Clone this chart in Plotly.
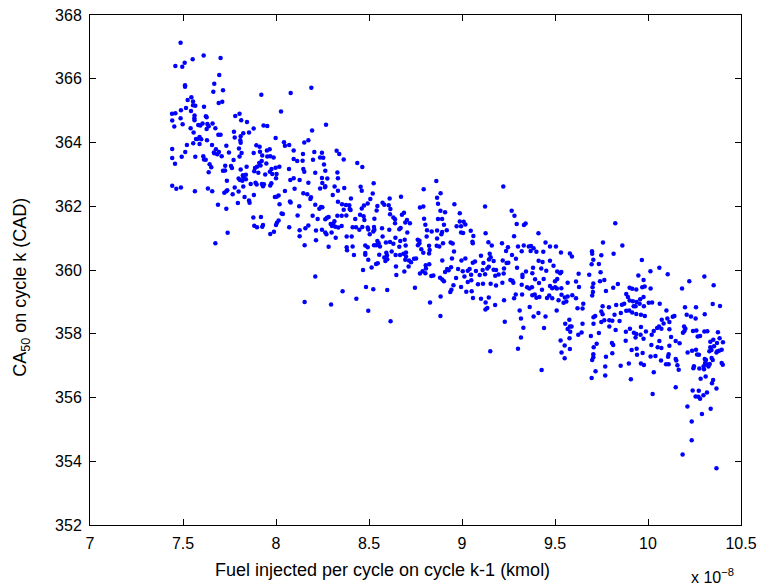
import plotly.graph_objects as go

# Fuel injected on cycle k-1 (units of 1e-8 kmol) and CA50 on cycle k (CAD)
fuel_a = [7.487,7.611,7.702,7.552,7.459,7.496,7.509,7.695,7.668,7.511,
7.511,7.715,7.663,7.921,8.079,7.545,7.525,7.554,7.692,7.711,
7.613,7.554,7.566,7.516,7.489,7.543,7.441,7.459,8.027,7.562,
7.623,7.627,7.781,7.804,7.561,7.562,7.487,7.442,7.813,7.844,
7.605,7.631,7.659,7.674,7.582,7.593,7.627,7.638,7.498,7.453,
7.541,7.880,7.933,7.953,7.774,7.824,7.855,7.557,7.690,7.702,
7.810,7.778,7.589,7.577,7.570,7.598,7.808,7.810,7.998,7.629,
7.555,7.589,7.521,7.656,7.894,7.912,8.043,8.048,8.071,7.442,
7.677,7.733,7.801,7.693,7.666,7.684,7.668,7.512,7.815,7.880,
7.914,7.951,7.966,8.095,7.493,7.442,7.566,7.708,7.747,7.804,
7.926,7.953,7.969,7.987,8.095,8.114,7.609,7.613,7.622,7.772,
7.457,7.643,7.652,7.638,7.727,7.758,7.763,7.842,7.898,7.887,
7.910,7.923,7.917,7.948,7.976,7.998,8.018,8.070,7.715,7.726,
7.810,7.822,7.824,7.838,7.883,7.905,7.942,7.967,7.980,8.003,
7.806,7.819,7.799,7.838,7.736,7.864,7.890,7.896,7.924,7.930,
7.935,7.969,7.975,8.000,8.077,8.095,8.127,7.442,7.464,7.489,
7.564,7.634,7.657,7.778,7.824,7.799,7.733,7.738,7.722,7.767,
7.831,7.881,7.855,7.858,8.003,8.014,7.994,8.048,8.100,8.019,
7.795,7.688,7.733,8.075,8.079,8.125,7.878,7.919,8.030,8.037,
8.116,7.883,7.898,7.926,7.930,8.000,8.005,8.014,8.071,8.127,
8.127,7.969,7.989,7.740,7.674]
ca50_a = [367.13,366.73,366.65,366.61,366.40,366.38,366.50,366.12,365.84,365.80,
365.75,365.64,365.59,365.50,365.55,365.42,365.33,365.29,365.24,365.28,
365.12,365.17,365.15,365.08,365.01,364.99,364.90,364.92,364.97,364.85,
364.82,364.79,364.83,364.90,364.76,364.70,364.76,364.69,364.70,364.64,
364.60,364.58,364.60,364.45,364.55,364.53,364.42,364.51,364.57,364.50,
364.45,364.44,364.53,364.52,364.34,364.29,364.31,364.31,364.24,364.24,
364.20,364.16,364.17,364.11,364.11,364.10,364.07,363.99,364.14,364.07,
363.98,363.95,363.92,363.92,363.91,363.87,364.01,363.90,363.92,363.80,
363.79,363.90,363.81,363.70,363.69,363.63,363.66,363.70,363.67,363.67,
363.71,363.75,363.79,363.75,363.55,363.51,363.55,363.57,363.69,363.56,
363.59,363.56,363.57,363.53,363.48,363.42,363.57,363.47,363.46,363.45,
363.33,363.32,363.22,363.07,363.27,363.26,363.20,363.24,363.24,363.20,
363.36,363.42,363.28,363.34,363.17,363.21,363.24,363.17,363.11,363.12,
363.15,362.97,362.92,362.99,363.10,363.05,363.00,363.08,363.01,363.01,
362.82,362.80,362.87,362.85,362.80,362.70,362.74,362.68,362.70,362.63,
362.69,362.65,362.72,362.88,362.82,362.88,362.82,362.64,362.55,362.59,
362.47,362.56,362.47,362.59,362.62,362.46,362.47,362.50,362.42,362.38,
362.29,362.35,362.18,362.11,362.30,362.34,362.29,362.48,362.55,362.06,
362.10,362.05,361.92,362.15,362.12,362.00,361.65,361.66,361.77,361.76,
361.71,361.39,361.34,361.36,361.41,361.41,361.48,361.55,361.34,361.25,
361.06,361.13,361.20,361.17,360.84]

fuel_b = [8.269,8.194,8.152,8.174,8.145,8.143,8.206,8.247,8.326,8.340,
8.364,8.237,8.254,8.199,8.258,8.147,8.152,8.211,8.265,8.330,
8.437,8.464,8.174,8.247,8.276,8.249,8.333,8.237,8.263,8.265,
8.315,8.333,8.367,8.455,8.461,8.525,8.147,8.168,8.188,8.185,
8.305,8.520,8.211,8.242,8.233,8.249,8.333,8.355,8.376,8.394,
8.403,8.396,8.401,8.364,8.507,8.493,8.473,8.461,8.545,8.541,
8.573,8.582,8.611,8.606,8.615,8.613,8.672,8.794,8.774,8.792,
8.197,8.224,8.265,8.274,8.283,8.330,8.353,8.378,8.426,8.452,
8.471,8.475,8.529,8.631,8.640,8.640,8.677,8.688,8.704,8.720,
8.695,8.796,8.803,8.314,8.294,8.301,8.308,8.335,8.353,8.319,
8.412,8.430,8.448,8.464,8.493,8.496,8.527,8.529,8.570,8.609,
8.663,8.670,8.706,8.812,8.837,8.174,8.158,8.215,8.247,8.265,
8.271,8.299,8.321,8.380,8.407,8.504,8.523,8.573,8.545,8.552,
8.539,8.527,8.559,8.480,8.493,8.591,8.613,8.631,8.642,8.668,
8.692,8.697,8.762,8.771,8.771,8.763,8.781,8.810,8.864,8.878,
8.823,8.154,8.215,8.283,8.380,8.382,8.412,8.419,8.480,8.480,
8.496,8.555,8.593,8.597,8.622,8.663,8.667,8.685,8.699,8.699,
8.715,8.643,8.598,8.582,8.588,8.742,8.753,8.792,8.826,8.823,
8.538,8.547,8.514,8.468,8.695,8.726,8.713,8.645,8.690,8.647,
8.774,8.805,8.803,8.824,8.806,8.788,8.835,8.846,8.211,8.358,
8.484,8.523,8.598,8.432,8.747,8.154,8.296,8.496,8.616,8.828,
8.190]
ca50_b = [364.56,364.38,364.00,364.07,363.64,363.43,363.70,363.68,363.74,363.64,
363.47,363.53,363.52,363.46,363.31,363.17,363.08,363.05,363.11,363.06,
363.36,363.23,362.74,362.89,362.87,362.73,362.88,362.56,362.60,362.63,
362.62,362.49,362.57,362.61,362.49,362.72,362.41,362.38,362.28,362.23,
362.35,362.40,362.05,361.98,361.92,361.97,362.14,362.06,362.04,362.03,
362.24,361.91,361.88,361.89,362.23,362.09,362.02,361.93,362.01,361.87,
362.11,362.05,362.24,362.03,361.91,361.75,362.30,362.53,361.96,361.99,
361.70,361.60,361.59,361.64,361.66,361.70,361.70,361.71,361.60,361.73,
361.69,361.57,361.61,361.65,361.59,361.47,361.73,361.80,361.57,361.47,
361.49,361.61,361.42,361.53,361.44,361.38,361.45,361.33,361.38,361.36,
361.34,361.34,361.26,361.35,361.33,361.27,361.35,361.26,361.31,361.26,
361.28,361.32,361.18,361.25,361.21,361.40,361.31,361.24,361.26,361.18,
361.12,361.18,361.01,361.05,361.05,361.12,361.21,361.05,360.91,360.84,
360.78,360.78,360.74,360.77,360.71,360.86,360.88,360.82,361.01,360.91,
360.95,360.77,360.95,360.92,360.84,360.78,360.65,361.05,360.76,360.74,
360.76,360.78,360.93,360.73,360.71,360.62,360.74,360.47,360.53,360.48,
360.32,360.48,360.54,360.46,360.58,360.73,360.47,360.51,360.55,360.42,
360.30,360.47,360.34,360.39,360.28,360.35,360.36,360.54,360.63,360.52,
360.19,360.21,360.08,360.00,360.32,360.24,360.11,360.11,359.95,359.84,
359.89,360.15,359.90,360.18,360.05,359.96,359.81,359.83,359.80,359.33,
359.47,359.40,359.37,359.10,359.44,359.00,358.92,358.72,358.39,358.98,
365.72]

# (fuel, CA50) pairs, middle of the range
pairs_c = [(8.862,362.79),(8.885,362.41),(8.866,362.27),(9.222,362.62),(9.124,361.99),
(8.871,362.08),(8.959,362.06),(8.884,361.86),(8.909,361.81),(8.988,361.78),
(9.267,361.86),(9.282,361.70),(8.871,361.60),(8.893,361.60),(8.903,361.42),
(8.918,361.25),(8.866,361.24),(8.893,361.19),(8.889,361.12),(9.294,361.44),
(9.333,361.41),(9.342,361.46),(8.971,361.37),(8.995,361.37),(8.988,361.52),
(9.009,361.51),(9.018,361.43),(8.995,361.18),(9.006,361.16),(9.047,361.23),
(9.061,361.07),(9.127,361.15),(9.280,361.06),(9.411,361.15),(8.866,360.99),
(8.898,360.84),(8.939,360.86),(8.950,360.83),(9.056,360.89),(9.058,360.84),
(9.142,360.87),(9.160,360.77),(9.215,360.84),(9.247,360.71),(9.301,360.74),
(9.332,360.77),(9.359,360.74),(9.371,360.75),(9.385,360.68),(9.369,360.60),
(9.400,360.57),(9.237,360.60),(9.321,360.59),(8.957,360.58),(9.102,360.45),
(9.149,360.51),(9.154,360.40),(9.269,360.47),(9.290,360.35),(8.894,360.30),
(8.946,360.36),(8.997,360.30),(9.018,360.36),(9.058,360.23),(9.070,360.27),
(9.115,360.22),(9.145,360.33),(9.170,360.28),(9.219,360.30),(9.240,360.22),
(9.249,360.23),(9.412,360.29),(8.920,360.03),(8.928,359.99),(8.941,360.09),
(8.909,359.94),(8.979,360.03),(9.004,359.96),(9.031,359.98),(9.041,360.03),
(9.075,359.97),(9.111,360.00),(9.136,360.05),(9.144,360.10),(9.170,360.01),
(9.183,360.00),(9.226,360.05),(9.296,360.07),(9.344,359.95),(9.382,360.07),
(9.378,359.90),(8.882,359.76),(8.894,359.70),(8.903,359.65),(8.968,359.75),
(9.013,359.80),(9.049,359.85),(9.095,359.84),(9.124,359.87),(9.179,359.82),
(9.197,359.86),(9.224,359.89),(9.260,359.69),(9.271,359.66),(9.325,359.85),
(9.325,359.78),(9.393,359.71),(8.954,359.52),(8.995,359.47),(9.031,359.62),
(9.050,359.68),(9.086,359.55),(9.113,359.57),(9.154,359.57),(9.183,359.51),
(9.217,359.60),(9.276,359.60),(9.321,359.54),(9.350,359.46),(9.362,359.42),
(9.376,359.46),(9.414,359.59),(8.943,359.38),(8.937,359.31),(8.885,359.17),
(9.023,359.32),(9.052,359.33),(9.059,359.12),(9.102,359.10),(9.144,359.14),
(9.226,359.05),(9.280,359.11),(9.289,359.23),(9.323,359.23),(9.378,359.21),
(9.391,359.23),(9.400,359.13),(9.416,359.15),(9.127,358.98),(9.178,358.90),
(9.136,358.81),(9.126,358.76),(9.310,358.73),(9.364,358.84),(8.884,358.56),
(9.317,358.48),(9.385,358.54),(9.411,358.65),(9.230,358.38),(9.330,358.19),
(9.317,357.88),(9.301,357.53),(9.152,357.45)]

pairs_d = [(9.824,361.47),(9.449,360.86),(9.437,360.57),(9.473,360.74),(9.505,360.74),
(9.532,360.55),(9.580,360.52),(9.591,360.42),(9.758,360.86),(9.862,360.77),
(9.699,360.59),(9.700,360.51),(9.749,360.46),(9.815,360.51),(9.706,360.32),
(9.697,360.18),(9.736,360.19),(9.967,360.31),(9.433,360.25),(9.473,360.29),
(9.492,360.13),(9.528,359.90),(9.534,359.94),(9.426,360.05),(9.453,359.98),
(9.512,359.95),(9.745,359.93),(9.684,359.85),(9.948,359.83),(9.439,359.72),
(9.512,359.72),(9.500,359.65),(9.568,359.60),(9.613,359.64),(9.627,359.88),
(9.742,359.65),(9.765,359.69),(9.976,359.69),(9.706,359.58),(9.702,359.46),
(9.629,359.47),(9.704,359.31),(9.700,359.20),(9.774,359.34),(9.813,359.44),
(9.838,359.56),(9.473,359.50),(9.485,359.43),(9.501,359.46),(9.510,359.42),
(9.534,359.43),(9.430,359.38),(9.901,359.44),(9.937,359.39),(9.915,359.41),
(9.969,359.46),(9.982,359.48),(9.457,359.12),(9.469,359.20),(9.485,359.11),
(9.535,359.22),(9.553,359.14),(9.568,359.17),(9.593,359.21),(9.613,359.11),
(9.519,359.05),(9.546,358.97),(9.561,359.01),(9.883,359.25),(9.892,359.15),
(9.872,358.94),(9.901,359.04),(9.919,359.02),(9.939,359.00),(9.958,359.08),
(9.976,359.15),(9.652,358.94),(9.621,358.80),(9.648,358.79),(9.756,358.86),
(9.790,358.83),(9.829,358.90),(9.860,358.91),(9.923,358.86),(9.933,358.86),
(9.955,358.94),(9.978,358.86),(9.509,358.73),(9.449,358.54),(9.577,358.44),
(9.555,358.31),(9.648,358.31),(9.707,358.52),(9.716,358.56),(9.749,358.70),
(9.756,358.61),(9.820,358.60),(9.854,358.65),(9.883,358.72),(9.899,358.73),
(9.915,358.67),(9.962,358.60),(9.937,358.62),(9.983,358.56),(9.749,358.37),
(9.707,358.31),(9.765,358.42),(9.792,358.42),(9.808,358.41),(9.847,358.40),
(9.441,358.18),(9.580,358.23),(9.589,358.23),(9.568,358.15),(9.582,358.06),
(9.530,357.79),(9.552,357.63),(9.578,357.86),(9.580,357.52),(9.535,357.41),
(9.552,357.23),(9.428,356.86),(9.625,357.97),(9.643,358.04),(9.693,357.93),
(9.736,358.02),(9.792,358.23),(9.826,358.12),(9.724,357.69),(9.708,357.58),
(9.706,357.36),(9.706,357.26),(9.700,357.18),(9.806,357.71),(9.813,357.65),
(9.808,357.39),(9.774,357.28),(9.770,356.97),(9.718,356.82),(9.697,356.61),
(9.770,356.69),(9.881,358.06),(9.903,358.16),(9.924,358.03),(9.937,357.99),
(9.962,358.21),(9.960,357.97),(9.933,357.88),(9.976,357.84),(9.880,357.78),
(9.912,357.49),(9.939,357.53),(9.941,357.34),(9.971,357.40),(9.853,357.00),
(9.897,357.07),(9.962,357.07),(9.978,357.02),(9.908,356.57)]

pairs_e = [(10.013,359.96),(10.061,360.07),(10.106,359.87),(10.014,359.42),(10.222,359.65),
(10.303,359.80),(10.353,359.52),(10.183,359.42),(10.004,358.97),(10.022,358.98),
(10.063,358.94),(10.199,358.83),(10.258,358.83),(10.348,358.93),(10.387,358.87),
(10.099,358.73),(10.074,358.44),(10.104,358.48),(10.133,358.53),(10.142,358.56),
(10.208,358.60),(10.231,358.54),(10.256,358.48),(10.305,358.61),(10.084,358.32),
(10.115,358.37),
(9.989,358.07),(10.020,357.97),(10.031,358.09),(10.049,358.18),(10.059,358.23),
(10.072,358.16),(10.115,358.14),(10.194,358.23),(10.201,358.16),(10.195,358.08),
(10.188,358.03),(10.242,358.09),(10.260,358.10),(10.303,358.07),(10.319,358.08),
(10.376,358.05),(10.267,357.91),(10.280,357.93),(10.124,357.90),(10.149,357.77),
(10.170,357.70),(10.061,357.77),(10.018,357.65),(10.052,357.58),(10.072,357.55),
(10.115,357.62),(10.014,357.29),(10.040,357.30),(10.070,357.16),(10.108,357.28),
(10.111,357.36),(10.097,357.04),(10.111,357.04),(10.149,357.21),(10.152,357.16),
(10.158,357.01),(10.165,356.87),(10.031,356.79),(10.213,357.41),(10.237,357.47),
(10.258,357.50),(10.264,357.35),(10.274,357.34),(10.247,356.98),(10.244,356.92),
(10.276,356.91),(10.307,357.08),(10.316,357.04),(10.325,356.97),(10.332,357.05),
(10.301,356.89),(10.299,356.98),(10.312,357.18),(10.305,357.21),(10.342,357.24),
(10.348,357.18),(10.330,357.45),(10.341,357.49),(10.335,357.58),(10.355,357.61),
(10.371,357.71),(10.351,357.81),(10.335,357.75),(10.385,357.86),(10.403,357.73),
(10.396,357.50),(10.382,357.47),(10.373,357.45),(10.368,357.41),(10.396,357.08),
(10.402,357.03),(10.283,356.59),(10.310,356.66),(10.350,356.55),(10.344,356.45),
(10.368,356.28),(10.240,356.22),(10.273,356.21),(10.317,356.16),(10.298,356.07),
(10.280,355.96),(10.271,356.02),(10.256,356.03),(10.337,355.65),(10.212,355.72),
(10.149,356.32),(10.025,356.11),(10.290,355.48),(10.235,355.25),(10.235,354.66),
(10.186,354.21),(10.368,353.78)]

x_ticks = [7, 7.5, 8, 8.5, 9, 9.5, 10, 10.5]
x_tick_labels = ["7", "7.5", "8", "8.5", "9", "9.5", "10", "10.5"]
y_ticks = [352, 354, 356, 358, 360, 362, 364, 366, 368]

assert len(fuel_a) == len(ca50_a), (len(fuel_a), len(ca50_a))
assert len(fuel_b) == len(ca50_b), (len(fuel_b), len(ca50_b))

fuel = fuel_a + fuel_b + [p[0] for p in pairs_c + pairs_d + pairs_e]
ca50 = ca50_a + ca50_b + [p[1] for p in pairs_c + pairs_d + pairs_e]

FONT = "Liberation Sans"

fig = go.Figure(go.Scatter(
    x=fuel, y=ca50, mode="markers",
    marker=dict(color="#0000ff", size=4.5, line=dict(width=0)),
    hoverinfo="skip", showlegend=False))

axis_common = dict(
    showgrid=False, zeroline=False, showline=True, linecolor="black", linewidth=1,
    mirror="ticks", ticks="inside", ticklen=6, tickcolor="black", tickwidth=1,
    tickfont=dict(family=FONT, size=16, color="black"), automargin=False,
)

fig.update_layout(
    width=757, height=588,
    margin=dict(l=90, r=16, t=15, b=63),
    paper_bgcolor="white", plot_bgcolor="white",
    xaxis=dict(range=[7, 10.5], tickvals=x_ticks, ticktext=x_tick_labels,
               ticklabelstandoff=4, **axis_common),
    yaxis=dict(range=[352, 368], tickvals=y_ticks, ticklabelstandoff=4,
               **axis_common),
    annotations=[
        dict(text="Fuel injected per cycle on cycle k-1 (kmol)", xref="paper", yref="paper",
             x=0.449, y=-0.088, xanchor="center", yanchor="middle", showarrow=False,
             font=dict(family=FONT, size=18, color="black")),
        dict(text="CA<sub>50</sub> on cycle k (CAD)", xref="paper", yref="paper",
             x=-0.1045, y=0.467, xanchor="center", yanchor="middle", textangle=-90,
             showarrow=False, font=dict(family=FONT, size=18, color="black")),
        dict(text="x 10<sup>\u22128</sup>", xref="paper", yref="paper",
             x=0.992, y=-0.1, xanchor="right", yanchor="middle", showarrow=False,
             font=dict(family=FONT, size=16, color="black")),
    ],
)

fig.write_html("out.html")
